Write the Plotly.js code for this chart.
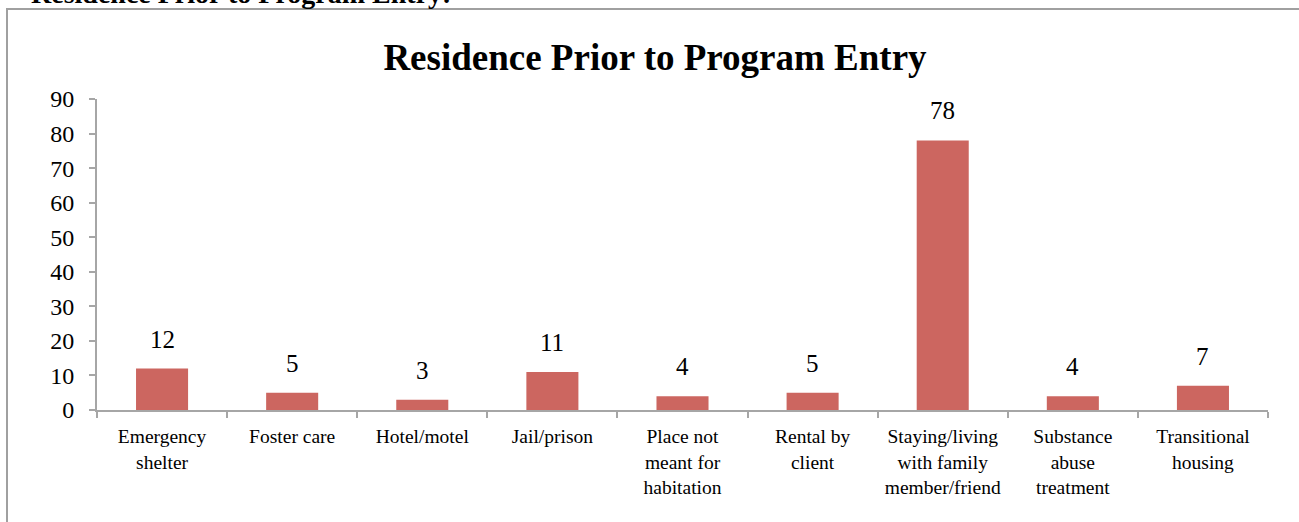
<!DOCTYPE html>
<html>
<head>
<meta charset="utf-8">
<script src="https://cdn.plot.ly/plotly-3.0.1.min.js"></script>
<style>
html,body{margin:0;padding:0;background:#fff;overflow:hidden;}
#chart{width:1299px;height:522px;}
</style>
</head>
<body>
<div id="chart"></div>
<script>
const categories = [
  "Emergency<br>shelter",
  "Foster care",
  "Hotel/motel",
  "Jail/prison",
  "Place not<br>meant for<br>habitation",
  "Rental by<br>client",
  "Staying/living<br>with family<br>member/friend",
  "Substance<br>abuse<br>treatment",
  "Transitional<br>housing"
];
const counts = [12, 5, 3, 11, 4, 5, 78, 4, 7];
const chartTitle = "Residence Prior to Program Entry";
const headingText = "Residence Prior to Program Entry:";

const serif = "Liberation Serif, Times New Roman, serif";
const axisGray = "#a6a6a6";

const trace = {
  type: "bar",
  x: categories,
  y: counts,
  width: 0.4,
  marker: {color: "#cc6660", line: {width: 0}},
  hoverinfo: "skip"
};

const valueLabels = categories.map((c, i) => ({
  x: c, y: counts[i], xref: "x", yref: "y",
  text: String(counts[i]), showarrow: false,
  yanchor: "bottom", yshift: 14,
  font: {family: serif, size: 25, color: "#000"}
}));

const L = 97, R = 1268, T = 99, B = 410;
const pw = R - L, ph = B - T;
const px = v => (v - L) / pw;
const py = v => (B - v) / ph;

const layout = {
  width: 1299, height: 522,
  margin: {l: L, r: 1299 - R, t: T, b: 522 - B, pad: 0},
  paper_bgcolor: "#fff", plot_bgcolor: "#fff",
  showlegend: false,
  title: {
    text: "<b>" + chartTitle + "</b>",
    font: {family: serif, size: 37, color: "#000"},
    x: px(655), xref: "paper", xanchor: "center",
    y: 1 - 57 / 522, yref: "container", yanchor: "middle"
  },
  xaxis: {
    type: "category",
    showline: true, linecolor: axisGray, linewidth: 2,
    ticks: "outside", tickson: "boundaries", ticklen: 6, tickcolor: axisGray, tickwidth: 2,
    ticklabelstandoff: 8,
    tickfont: {family: serif, size: 19.5, color: "#000"},
    showgrid: false, zeroline: false,
    automargin: false
  },
  yaxis: {
    range: [0, 90], dtick: 10, tick0: 0,
    showline: true, linecolor: axisGray, linewidth: 2,
    ticks: "outside", ticklen: 6, tickcolor: axisGray, tickwidth: 2,
    ticklabelstandoff: 10,
    tickfont: {family: serif, size: 24, color: "#000"},
    showgrid: false, zeroline: false,
    automargin: false
  },
  shapes: [{
    type: "rect", xref: "paper", yref: "paper",
    x0: px(7), x1: px(1310), y0: py(540), y1: py(9),
    line: {color: "#a0a0a0", width: 2}, fillcolor: "rgba(0,0,0,0)", layer: "below"
  }],
  annotations: valueLabels.concat([{
    text: "<b>" + headingText + "</b>", showarrow: false,
    xref: "paper", yref: "paper", x: px(29), y: py(10.5),
    xanchor: "left", yanchor: "bottom",
    font: {family: serif, size: 28, color: "#000"}
  }])
};

Plotly.newPlot("chart", [trace], layout, {staticPlot: true, displayModeBar: false});
</script>
</body>
</html>
